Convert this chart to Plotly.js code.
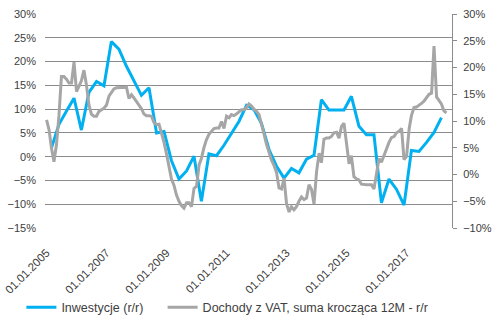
<!DOCTYPE html>
<html>
<head>
<meta charset="utf-8">
<script src="https://cdn.plot.ly/plotly-3.0.1.min.js"></script>
<style>html,body{margin:0;padding:0;background:#fff;}#chart{width:492px;height:322px;}</style>
</head>
<body>
<div id="chart"></div>
<script>
// Series names
const seriesInv = "Inwestycje (r/r)";
const seriesVat = "Dochody z VAT, suma krocząca 12M - r/r";

// Inwestycje (r/r), quarterly from Mar 2005 to Mar 2018 (%)
const invStart = [2005, 3];
const invValues = [
  1.8, 6.8, 9.6, 12.3,
  5.6, 13.5, 15.8, 14.9,
  24.2, 22.6, 19.0, 16.0,
  12.9, 14.5, 5.0, 5.3,
  -0.8, -4.7, -3.0, 0.1,
  -9.4, 0.6, 0.2, 2.4,
  5.0, 7.4, 10.8, 9.9,
  7.0, 1.5, -2.0, -4.5,
  -2.5, -3.4, -0.5, 0.3,
  12.0, 9.8, 9.8, 9.8,
  12.7, 6.4, 4.6, 4.6,
  -9.7, -4.7, -6.9, -10.2,
  1.3, 1.1, 3.0, 5.1,
  8.2
];

// Dochody z VAT (12M rolling sum, y/y), monthly from Jan 2005 to May 2018 (%)
const vatStart = [2005, 1];
const vatValues = [
  10.2, 8.3, 5.0, 2.4, 5.5, 11.0, 18.3, 18.3, 17.8, 17.1, 17.1, 21.0,
  15.5, 16.5, 17.5, 19.5, 16.8, 13.0, 11.3, 10.9, 10.9, 11.8, 12.1, 12.4,
  13.0, 14.7, 15.3, 16.0, 16.2, 16.2, 16.2, 16.2, 16.3, 14.2, 14.9, 14.3,
  13.6, 13.1, 12.3, 11.3, 11.0, 11.0, 10.9, 9.7, 9.3, 9.4, 7.8, 6.0,
  3.8, 1.0, -0.8, -2.0, -3.8, -5.0, -5.8, -6.3, -5.3, -5.3, -6.0, -2.6,
  -2.2, 1.8, 3.0, 5.0, 6.5, 7.5, 8.1, 8.6, 8.7, 8.7, 9.9, 8.6,
  10.9, 10.6, 11.2, 11.0, 11.3, 11.8, 12.1, 12.1, 12.5, 13.2, 12.8, 12.2,
  11.8, 11.2, 9.6, 7.6, 5.7, 4.0, 2.7, 1.7, 0.4, -2.5, -2.7, -0.7,
  -5.5, -7.0, -6.0, -6.6, -6.0, -5.0, -4.2, -4.7, -4.4, -1.9, -2.8, -5.5,
  0.5, 4.0, 2.2, 6.6, 6.8, 6.8, 7.1, 7.8, 7.9, 6.8, 9.0, 9.6,
  6.0, 2.0, 3.5, -0.4, -0.8, -1.0, -1.8, -1.9, -1.9, -1.9, -1.9, -2.7,
  0.5, 3.0, 2.3, 3.6, 4.5, 6.0, 6.9, 7.1, 7.8, 8.1, 8.6, 2.8,
  3.4, 8.5, 11.0, 12.5, 12.6, 12.9, 13.3, 13.7, 14.5, 15.0, 15.2, 24.0,
  14.5, 13.8, 13.2, 11.9, 11.5
];

// X tick labels
const tickDates = ["2005-01-01","2007-01-01","2009-01-01","2011-01-01","2013-01-01","2015-01-01","2017-01-01"];
const tickLabels = ["01.01.2005","01.01.2007","01.01.2009","01.01.2011","01.01.2013","01.01.2015","01.01.2017"];

function dates(start, n, stepMonths) {
  const out = [];
  for (let i = 0; i < n; i++) {
    const m0 = (start[0] * 12 + (start[1] - 1)) + i * stepMonths;
    const y = Math.floor(m0 / 12), m = m0 % 12 + 1;
    out.push(y + "-" + String(m).padStart(2, "0") + "-01");
  }
  return out;
}

const font = {family: "Liberation Sans, Arial, sans-serif", size: 11, color: "#404040"};
const xfont = {family: "Liberation Sans, Arial, sans-serif", size: 11.5, color: "#404040"};
const lfont = {family: "Liberation Sans, Arial, sans-serif", size: 12.5, color: "#404040"};

const traces = [
  {
    x: dates(invStart, invValues.length, 3), y: invValues, name: seriesInv,
    type: "scatter", mode: "lines", yaxis: "y", legend: "legend",
    line: {color: "#00B0F0", width: 3}
  },
  {
    x: dates(vatStart, vatValues.length, 1), y: vatValues, name: seriesVat,
    type: "scatter", mode: "lines", yaxis: "y2", legend: "legend2",
    line: {color: "#A6A6A6", width: 3}
  }
];

const layout = {
  width: 492, height: 322,
  margin: {l: 45, r: 40, t: 14, b: 94, autoexpand: false},
  paper_bgcolor: "#fff", plot_bgcolor: "#fff",
  font: font,
  showlegend: true,
  legend: {orientation: "h", x: -0.058, xanchor: "left", y: -0.372, yanchor: "middle",
           font: lfont, bgcolor: "rgba(0,0,0,0)"},
  legend2: {orientation: "h", x: 0.289, xanchor: "left", y: -0.372, yanchor: "middle",
           font: lfont, bgcolor: "rgba(0,0,0,0)"},
  xaxis: {
    type: "date", range: ["2004-12-13", "2018-07-08"], automargin: false,
    tickvals: tickDates, ticktext: tickLabels, tickangle: -45,
    showgrid: false, zeroline: false, showline: false, ticks: "",
    ticklabelstandoff: 15, tickfont: xfont
  },
  yaxis: {
    range: [-15, 30], dtick: 5, tick0: 0, ticksuffix: "%", automargin: false,
    showgrid: true, gridcolor: "#8C8C8C", gridwidth: 1,
    zeroline: false, showline: false, ticks: "", ticklabelstandoff: 8,
    tickfont: font
  },
  yaxis2: {
    range: [-10, 30], dtick: 5, tick0: 0, ticksuffix: "%", automargin: false,
    overlaying: "y", side: "right",
    showgrid: false, zeroline: false,
    showline: true, linecolor: "#8C8C8C", linewidth: 1,
    ticks: "outside", ticklen: 4, tickcolor: "#8C8C8C", ticklabelstandoff: 4,
    tickfont: font
  }
};

Plotly.newPlot("chart", traces, layout, {staticPlot: true, displayModeBar: false});
</script>
</body>
</html>
